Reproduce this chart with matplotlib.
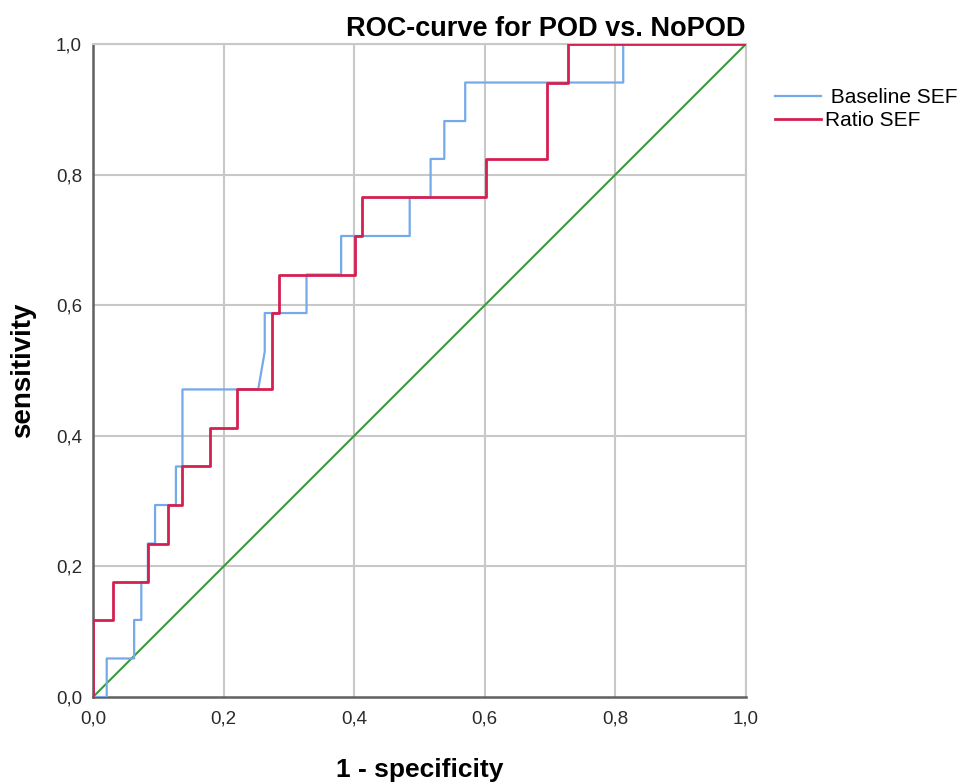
import matplotlib
matplotlib.use("Agg")
import matplotlib.pyplot as plt
from matplotlib.ticker import FuncFormatter

plt.rcParams['font.family'] = ['Liberation Sans', 'DejaVu Sans']

# Baseline SEF ROC (1-specificity, sensitivity)
base_x = [0, 0.021, 0.021, 0.063, 0.063, 0.074, 0.074, 0.084, 0.084, 0.095, 0.095,
          0.127, 0.127, 0.137, 0.137, 0.253, 0.263, 0.263, 0.327, 0.327, 0.380, 0.380,
          0.485, 0.485, 0.517, 0.517, 0.538, 0.538, 0.570, 0.570, 0.812, 0.812, 1.0]
base_y = [0, 0, 0.059, 0.059, 0.118, 0.118, 0.176, 0.176, 0.235, 0.235, 0.294,
          0.294, 0.353, 0.353, 0.471, 0.471, 0.529, 0.588, 0.588, 0.647, 0.647, 0.706,
          0.706, 0.765, 0.765, 0.824, 0.824, 0.882, 0.882, 0.941, 0.941, 1.0, 1.0]

# Ratio SEF ROC
ratio_x = [0, 0, 0.031, 0.031, 0.084, 0.084, 0.115, 0.115, 0.137, 0.137, 0.179, 0.179,
           0.221, 0.221, 0.274, 0.274, 0.285, 0.285, 0.401, 0.401, 0.412, 0.412,
           0.602, 0.602, 0.695, 0.695, 0.727, 0.727, 1.0]
ratio_y = [0, 0.118, 0.118, 0.176, 0.176, 0.235, 0.235, 0.294, 0.294, 0.353, 0.353, 0.412,
           0.412, 0.471, 0.471, 0.588, 0.588, 0.647, 0.647, 0.706, 0.706, 0.765,
           0.765, 0.824, 0.824, 0.941, 0.941, 1.0, 1.0]

ref_x = [0, 1]
ref_y = [0, 1]

ticks = [0.0, 0.2, 0.4, 0.6, 0.8, 1.0]

fig = plt.figure(figsize=(9.68, 7.82), dpi=100)
ax = fig.add_axes([93/968, 85/782, 653/968, 653/782])

grid_c = '#c8c8c8'
for t in ticks[1:]:
    ax.axvline(t, color=grid_c, lw=1.5, zorder=0)
    ax.axhline(t, color=grid_c, lw=1.5, zorder=0)

ax.plot(ref_x, ref_y, color='#3c9a3c', lw=1.5, zorder=2)
lb, = ax.plot(base_x, base_y, color='#74aaea', lw=1.6, zorder=3, label=' Baseline SEF')
lr, = ax.plot(ratio_x, ratio_y, color='#d42050', lw=2.0, zorder=4, label='Ratio SEF')

ax.set_xlim(0, 1)
ax.set_ylim(0, 1)
ax.set_xticks(ticks)
ax.set_yticks(ticks)
fmt = FuncFormatter(lambda v, p: f"{v:.1f}".replace('.', ','))
ax.xaxis.set_major_formatter(fmt)
ax.yaxis.set_major_formatter(fmt)
ax.tick_params(length=0, labelsize=13.5, colors='#2a2a2a')
ax.tick_params(axis='y', pad=8)
ax.tick_params(axis='x', pad=10)

for s in ['left', 'bottom']:
    ax.spines[s].set_color('#606060')
    ax.spines[s].set_linewidth(1.8)
for s in ['top', 'right']:
    ax.spines[s].set_color(grid_c)
    ax.spines[s].set_linewidth(1.5)

ax.set_xlabel('1 - specificity', fontsize=19, fontweight='bold', labelpad=22)
ax.set_ylabel('sensitivity', fontsize=20, fontweight='bold', labelpad=14)
ax.set_title('ROC-curve for POD vs. NoPOD', fontsize=19.5, fontweight='bold', loc='right', pad=6)

fig.legend(handles=[lb, lr], loc='upper left', bbox_to_anchor=(775/968, 1 - 88/782),
           frameon=False, fontsize=15, handlelength=2.2, handletextpad=0.2,
           labelspacing=0.2, borderaxespad=0, borderpad=0)

fig.savefig('out.png', dpi=100)
